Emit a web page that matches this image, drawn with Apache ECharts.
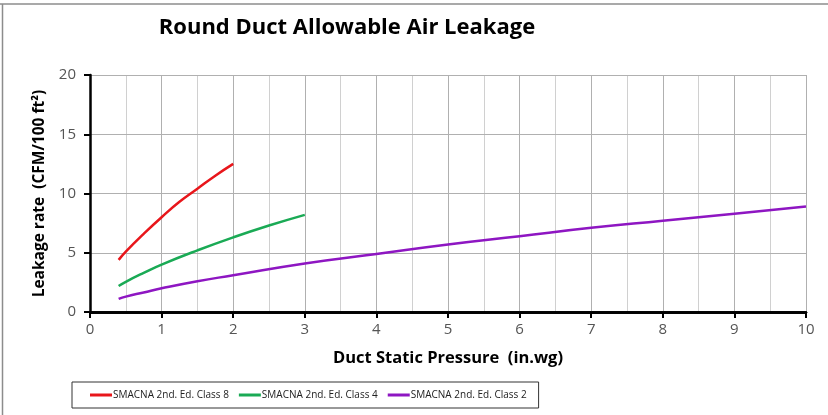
<!DOCTYPE html>
<html>
<head>
<meta charset="utf-8">
<script src="https://cdn.jsdelivr.net/npm/echarts@6/dist/echarts.min.js"></script>
<style>
  html, body { margin: 0; padding: 0; background: #fff; }
  #chart { width: 828px; height: 415px; }
</style>
</head>
<body>
<div id="chart"></div>
<script>
// pressure (in.wg) / leakage (CFM/100 ft2)
const class8X = [0.4, 0.5, 0.75, 1, 1.25, 1.5, 1.75, 2]
const class8Y = [4.4, 5.1, 6.6, 8.0, 9.3, 10.4, 11.5, 12.5]
const class4X = [0.4, 0.5, 0.75, 1, 1.5, 2, 2.5, 3]
const class4Y = [2.2, 2.55, 3.3, 4.0, 5.2, 6.3, 7.3, 8.2]
const class2X = [0.4, 0.5, 0.75, 1, 1.5, 2, 3, 4, 5, 6, 7, 8, 9, 10]
const class2Y = [1.1, 1.3, 1.65, 2.0, 2.6, 3.1, 4.1, 4.9, 5.7, 6.4, 7.1, 7.7, 8.3, 8.9]
const seriesNames = ['SMACNA 2nd. Ed. Class 8', 'SMACNA 2nd. Ed. Class 4', 'SMACNA 2nd. Ed. Class 2']
const seriesColors = ['#e8161b', '#1aaa55', '#8e16c2']

const pairs = (xs, ys) => xs.map((x, i) => [x, ys[i]])
const font = "'Open Sans', sans-serif"
const gridGray = '#b0b0b0'

const chart = echarts.init(document.getElementById('chart'))

function lineSeries(name, data, color) {
  return {
    name,
    type: 'line',
    data,
    smooth: true,
    showSymbol: false,
    symbol: 'none',
    color,
    z: 20,
    lineStyle: { color, width: 2.5 }
  }
}

// baseline along y = 0, drawn through the y scale
const baseline = lineSeries(seriesNames[2], pairs(class2X, class2Y), seriesColors[2])
baseline.markLine = {
  silent: true,
  symbol: 'none',
  label: { show: false },
  lineStyle: { color: '#000', width: 2.5, type: 'solid' },
  emphasis: { disabled: true },
  data: [{ yAxis: 0 }]
}

const blackAxis = {
  axisLine: { show: true, onZero: false, lineStyle: { color: '#000000', width: 2.5, opacity: 1 } },
  axisTick: { show: true, inside: false, length: 6, lineStyle: { color: '#000000', width: 2 } }
}

chart.setOption({
  animation: false,
  backgroundColor: '#fff',
  title: {
    text: 'Round Duct Allowable Air Leakage',
    left: 342,
    top: 12,
    textAlign: 'center',
    textStyle: { fontFamily: font, fontSize: 22, fontWeight: 'bold', color: '#000' }
  },
  grid: { left: 90, right: 22, top: 75, bottom: 103 },
  xAxis: [
    {
      type: 'value',
      position: 'bottom',
      min: 0,
      max: 10,
      interval: 1,
      z: 12,
      name: 'Duct Static Pressure  (in.wg)',
      nameLocation: 'middle',
      nameGap: 38,
      nameTextStyle: { fontFamily: font, fontSize: 16.5, fontWeight: 'bold', color: '#000' },
      ...blackAxis,
      axisLabel: { fontFamily: font, fontSize: 15, color: '#555', margin: 10 },
      splitLine: { show: true, showMinLine: false, lineStyle: { color: gridGray, width: 1 } }
    },
    {
      // half-step vertical grid lines only
      type: 'value',
      position: 'top',
      min: 0,
      max: 10,
      interval: 0.5,
      z: 0,
      axisLine: { show: false },
      axisTick: { show: false },
      axisLabel: { show: false },
      splitLine: { show: true, showMinLine: false, lineStyle: { color: '#d0d0d0', width: 1 } }
    },
    {
      // tick marks below the bottom axis
      type: 'value',
      position: 'bottom',
      min: 0,
      max: 10,
      interval: 1,
      z: 14,
      ...blackAxis,
      axisLabel: { show: false },
      splitLine: { show: false }
    }
  ],
  yAxis: {
    type: 'value',
    position: 'left',
    min: 0,
    max: 20,
    interval: 5,
    z: 11,
    name: 'Leakage rate  (CFM/100 ft²)',
    nameLocation: 'middle',
    nameGap: 40,
    nameTextStyle: { fontFamily: font, fontSize: 15.5, fontWeight: 'bold', color: '#000' },
    ...blackAxis,
    axisLabel: { fontFamily: font, fontSize: 15, color: '#555', margin: 14 },
    splitLine: { show: true, showMinLine: false, lineStyle: { color: gridGray, width: 1 } }
  },
  legend: {
    left: 72,
    top: 382,
    orient: 'horizontal',
    borderColor: '#333',
    borderWidth: 1,
    padding: [8, 12, 8, 18],
    itemGap: 10,
    itemWidth: 22,
    itemHeight: 3,
    icon: 'rect',
    textStyle: { fontFamily: font, fontSize: 10, color: '#222', padding: [0, 0, 0, -4] },
    data: seriesNames
  },
  graphic: [
    { type: 'line', shape: { x1: 0, y1: 4, x2: 828, y2: 4 }, style: { stroke: '#8c8c8c', lineWidth: 1.5 } },
    { type: 'line', shape: { x1: 2.5, y1: 4, x2: 2.5, y2: 415 }, style: { stroke: '#8c8c8c', lineWidth: 1.5 } }
  ],
  series: [
    lineSeries(seriesNames[0], pairs(class8X, class8Y), seriesColors[0]),
    lineSeries(seriesNames[1], pairs(class4X, class4Y), seriesColors[1]),
    baseline
  ]
})
</script>
</body>
</html>
